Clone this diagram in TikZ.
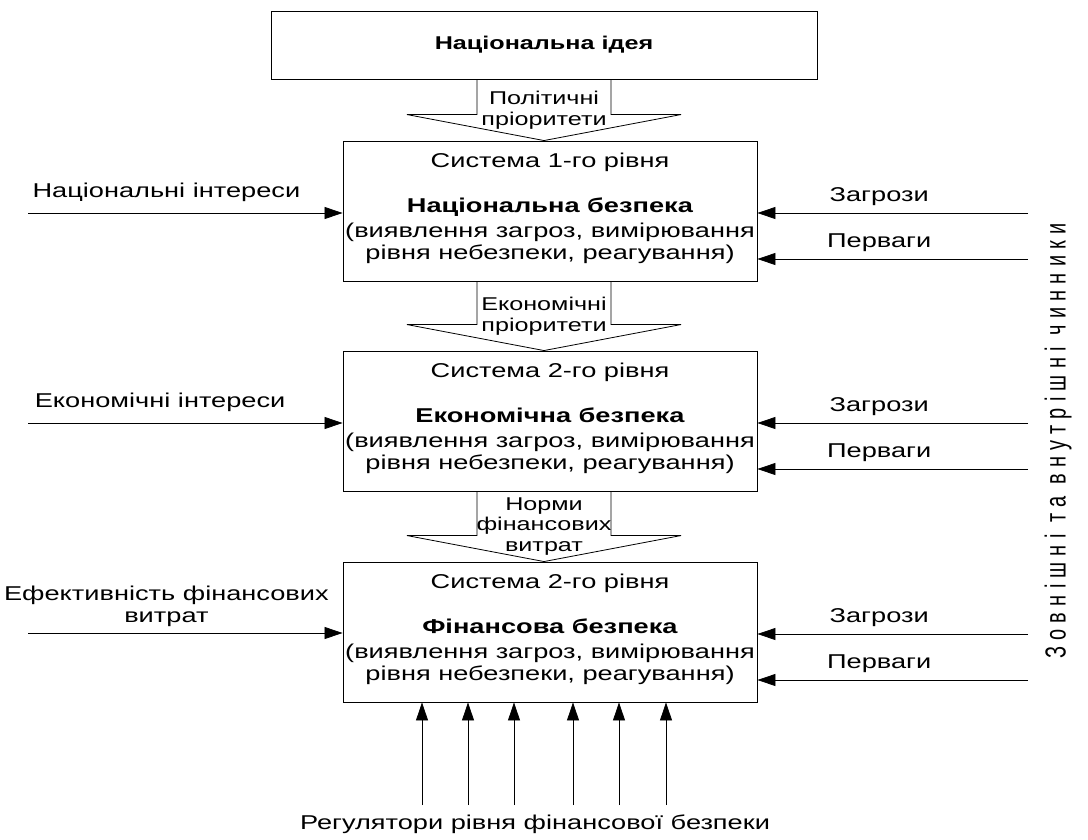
\documentclass[tikz,border=0pt]{standalone}
\usepackage{fontspec}
\setmainfont{Liberation Sans}[FakeStretch=1.36]
\newfontfamily\sidefont{Liberation Sans}[LetterSpace=31]
\usetikzlibrary{arrows.meta,positioning,calc}

\begin{document}
\begin{tikzpicture}[x=1pt, y=-1pt,
    every node/.style={align=center, inner sep=0pt, font=\fontsize{20}{22}\selectfont},
    box/.style={draw, line width=0.9pt, rectangle, minimum width=414pt, minimum height=140pt},
    blockarr/.style={draw, line width=0.8pt},
    arrtext/.style={font=\fontsize{18.5}{20.5}\selectfont},
    arr/.style={-{Triangle[length=18pt,width=12pt]}, line width=0.8pt},
    inlbl/.style={above=11pt},
    outlbl/.style={above=7pt}]

  \useasboundingbox (0,0) rectangle (1088,839);

  % levels
  \node[box, minimum width=546pt, minimum height=68pt, font=\fontsize{18.5}{20}\selectfont\bfseries] (idea) at (544,45) {Національна ідея};
  \node[box] (sys1) at (550,211) {};
  \node[box] (sys2) at (550,421) {};
  \node[box] (sys3) at (550,632) {};

  \node[anchor=north] (txt1) at ($(sys1.north)+(0,12)$) {Система 1-го рівня\\[23pt]\textbf{Національна безпека}\\[3pt](виявлення загроз, вимірювання\\рівня небезпеки, реагування)};
  \node[anchor=north] (txt2) at ($(sys2.north)+(0,12)$) {Система 2-го рівня\\[23pt]\textbf{Економічна безпека}\\[3pt](виявлення загроз, вимірювання\\рівня небезпеки, реагування)};
  \node[anchor=north] (txt3) at ($(sys3.north)+(0,12)$) {Система 2-го рівня\\[23pt]\textbf{Фінансова безпека}\\[3pt](виявлення загроз, вимірювання\\рівня небезпеки, реагування)};

  % block arrows between levels
  \foreach \up/\down/\txt in {idea/sys1/{Політичні\\пріоритети}, sys1/sys2/{Економічні\\пріоритети}, sys2/sys3/{Норми\\фінансових\\витрат}}
  {
    \draw[blockarr] ($(\up.south -| idea.south)+(-67,0)$) -- ($(\down.north -| idea.south)+(-67,-26)$) -- ++(-70,0)
      -- (\down.north -| idea.south) -- ++(137,-26) -- ++(-70,0) -- ($(\up.south -| idea.south)+(67,0)$);
    \node[arrtext] (lab-\down) at ($(\up.south -| idea.south)!0.5!(\down.north -| idea.south)$) {\txt};
  }

  % inputs on the left
  \coordinate (ni) at (28,213);
  \coordinate (ei) at (28,423);
  \coordinate (ef) at (28,633);
  \draw[arr] (ni) -- node[inlbl, pos=0.44] (ni-l) {Національні інтереси} (ni -| sys1.west);
  \draw[arr] (ei) -- node[inlbl, pos=0.42] (ei-l) {Економічні інтереси} (ei -| sys2.west);
  \draw[arr] (ef) -- node[above=6pt, pos=0.44] (ef-l) {Ефективність фінансових\\витрат} (ef -| sys3.west);

  % threats and advantages on the right
  \foreach \s/\a/\b in {sys1/213/259, sys2/423/469, sys3/634/680}
  {
    \coordinate (z-\s) at (1028,\a);
    \coordinate (p-\s) at (1028,\b);
    \draw[arr] (z-\s) -- node[outlbl, pos=0.55] (zl-\s) {Загрози} (z-\s -| \s.east);
    \draw[arr] (p-\s) -- node[outlbl, pos=0.55] (pl-\s) {Перваги} (p-\s -| \s.east);
  }

  \node[rotate=90, font=\sidefont\fontsize{20}{22}\selectfont] (ext) at (1058,441) {\scalebox{1}[1.45]{Зовнішні та внутрішні чинники}};

  % regulators
  \node[anchor=base] (reg) at (535,829) {Регулятори рівня фінансової безпеки};
  \foreach \x [count=\i] in {422,468,514,573,619,666}
  {
    \coordinate (r\i) at (\x,805);
    \draw[arr] (r\i) -- (r\i |- sys3.south);
  }
\end{tikzpicture}
\end{document}
